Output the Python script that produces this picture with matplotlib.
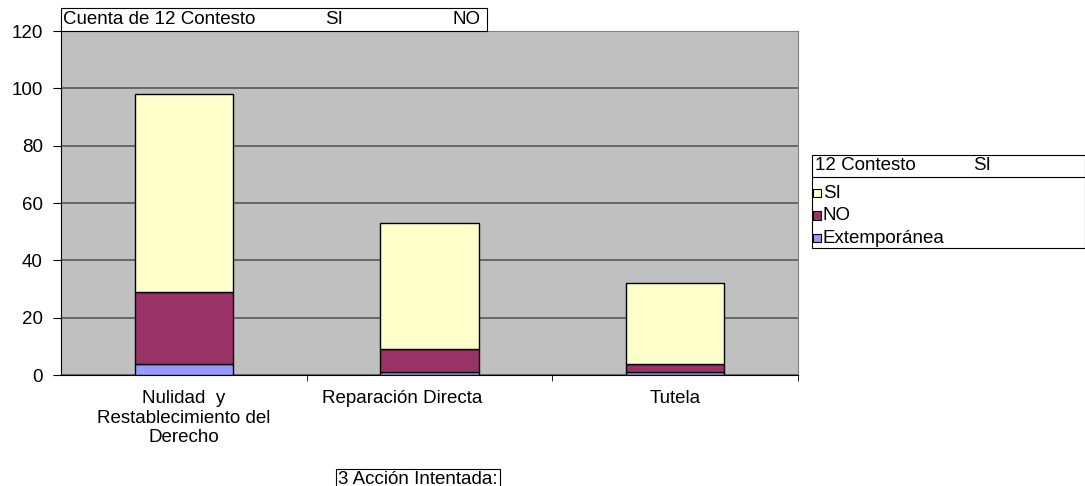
import numpy as np
import matplotlib.pyplot as plt
import matplotlib.transforms as mtransforms
from matplotlib.patches import Rectangle

plt.rcParams["font.family"] = ["Liberation Sans", "DejaVu Sans"]

categories = ["Nulidad  y\nRestablecimiento del\nDerecho", "Reparación Directa", "Tutela"]
extemporanea = [4, 1, 1]
no_vals = [25, 8, 3]
si_vals = [69, 44, 28]

series_names = ["SI", "NO", "Extemporánea"]
colors = {"SI": "#FFFFCC", "NO": "#993366", "Extemporánea": "#9999FF"}
FS = 13.5

W, H = 1085, 486
fig = plt.figure(figsize=(W / 100, H / 100), dpi=100)
ax = fig.add_axes([61 / W, 1 - 375 / H, (798 - 61) / W, (375 - 31) / H])
ax.set_facecolor("#C0C0C0")

x = np.arange(len(categories))
w = 0.4
ext = np.array(extemporanea)
no = np.array(no_vals)
si = np.array(si_vals)
ax.bar(x, ext, w, color=colors["Extemporánea"], edgecolor="black", linewidth=1, zorder=3)
ax.bar(x, no, w, bottom=ext, color=colors["NO"], edgecolor="black", linewidth=1, zorder=3)
ax.bar(x, si, w, bottom=ext + no, color=colors["SI"], edgecolor="black", linewidth=1, zorder=3)

ax.set_xlim(-0.5, len(categories) - 0.5)
ax.set_ylim(0, 120)
ax.set_yticks(range(0, 121, 20))
ax.yaxis.grid(True, color="#606060", linewidth=1.3)
ax.set_axisbelow(True)
ax.tick_params(axis="y", labelsize=FS, length=6, pad=7, direction="out")

ax.set_xticks(x)
ax.set_xticklabels(categories, fontsize=FS)
ax.tick_params(axis="x", length=0, pad=11)
ax.set_xticks(np.arange(0.5, len(categories) - 0.4, 1), minor=True)
ax.tick_params(axis="x", which="minor", length=4)

# excel puts the middle label a bit left of its category centre
lbl = ax.get_xticklabels()[1]
lbl.set_transform(lbl.get_transform() + mtransforms.ScaledTranslation(-27 / 100, 0, fig.dpi_scale_trans))

for s in ["top", "right"]:
    ax.spines[s].set_color("#808080")

# title box
fig.patches.append(Rectangle((61 / W, 1 - 31 / H), (487 - 61) / W, 23 / H,
                             transform=fig.transFigure, facecolor="white", edgecolor="black", linewidth=0.8))
fig.text(63 / W, 1 - 19.5 / H, "Cuenta de 12 Contesto", fontsize=FS, va="center")
fig.text(325 / W, 1 - 19.5 / H, "SI", fontsize=FS, va="center")
fig.text(453 / W, 1 - 19.5 / H, "NO", fontsize=FS, va="center")

# legend box
fig.patches.append(Rectangle((812 / W, 1 - 248 / H), (W - 812) / W, 93 / H,
                             transform=fig.transFigure, facecolor="white", edgecolor="black", linewidth=0.8))
fig.lines.append(plt.Line2D([812 / W, 1], [1 - 177 / H] * 2, transform=fig.transFigure,
                            color="black", linewidth=0.8))
fig.text(815 / W, 1 - 166 / H, "12 Contesto", fontsize=FS, va="center")
fig.text(973 / W, 1 - 166 / H, "SI", fontsize=FS, va="center")
for i, name in enumerate(series_names):
    yc = 193 + 22.5 * i
    fig.patches.append(Rectangle((813 / W, 1 - (yc + 4) / H), 8 / W, 8 / H,
                                 transform=fig.transFigure, facecolor=colors[name],
                                 edgecolor="black", linewidth=0.8))
    fig.text(823 / W, 1 - yc / H, name, fontsize=FS, va="center")

# axis title box
fig.text(338 / W, 1 - 479 / H, "3 Acción Intentada:", fontsize=FS, va="center",
         bbox=dict(boxstyle="square,pad=0.1", facecolor="white", edgecolor="black", linewidth=0.8))

fig.savefig("out.png", dpi=100)
